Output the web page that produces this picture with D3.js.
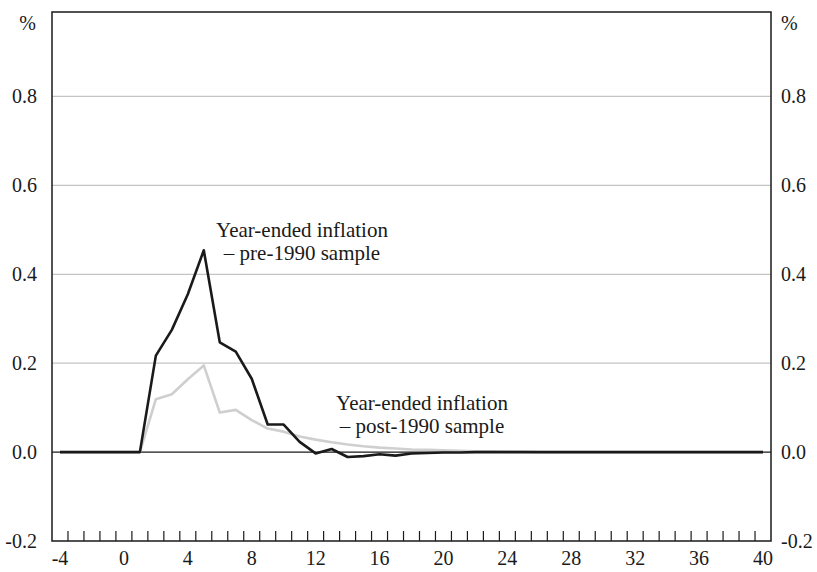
<!DOCTYPE html>
<html>
<head>
<meta charset="utf-8">
<script src="https://cdn.jsdelivr.net/npm/d3@7"></script>
<style>
  body { margin: 0; background: #fff; }
</style>
</head>
<body>
<div id="chart"></div>
<script>
// horizons (categories) and the two response series
var horizons = [-4,-3,-2,-1,0,1,2,3,4,5,6,7,8,9,10,11,12,13,14,15,16,17,18,19,20,
  21,22,23,24,25,26,27,28,29,30,31,32,33,34,35,36,37,38,39,40];
var pre1990 = [0,0,0,0,0,0,0.217,0.275,0.355,0.454,0.247,0.226,0.165,0.062,0.062,
  0.023,-0.003,0.007,-0.011,-0.009,-0.005,-0.008,-0.003,-0.002,-0.001,-0.001,
  0,0,0,0,0,0,0,0,0,0,0,0,0,0,0,0,0,0,0];
var post1990 = [0,0,0,0,0,0,0.119,0.130,0.164,0.195,0.089,0.095,0.072,0.053,0.046,
  0.035,0.028,0.022,0.017,0.013,0.010,0.008,0.006,0.005,0.004,0.003,0.002,0.002,
  0.001,0.001,0,0,0,0,0,0,0,0,0,0,0,0,0,0,0];
var xTickLabels = [-4,0,4,8,12,16,20,24,28,32,36,40];
var yTickLabels = [-0.2,0.0,0.2,0.4,0.6,0.8];
var gridValues = [0.2,0.4,0.6,0.8];

var width = 817, height = 572;
var plot = {left: 52, right: 771, top: 12, bottom: 541};
var serif = '"Liberation Serif", "Times New Roman", "DejaVu Serif", serif';

var svg = d3.select("#chart").append("svg")
    .attr("width", width)
    .attr("height", height)
    .style("font-family", serif);

var x = d3.scaleLinear().domain([-4.5, 40.5]).range([plot.left, plot.right]);
var y = d3.scaleLinear().domain([-0.2, 0.99]).range([plot.bottom, plot.top]);

// gridlines
svg.selectAll(".grid")
    .data(gridValues)
  .enter().append("line")
    .attr("x1", plot.left).attr("x2", plot.right)
    .attr("y1", function(d) { return y(d); })
    .attr("y2", function(d) { return y(d); })
    .attr("stroke", "#c4c4c4")
    .attr("stroke-width", 1.2);

// zero line
svg.append("line")
    .attr("x1", plot.left).attr("x2", plot.right)
    .attr("y1", y(0)).attr("y2", y(0))
    .attr("stroke", "#1a1a1a")
    .attr("stroke-width", 1.3);

// tick marks on the bottom, at category boundaries
var tickPos = horizons.slice(1).map(function(d) { return d - 0.5; });
svg.selectAll(".xtick")
    .data(tickPos)
  .enter().append("line")
    .attr("x1", function(d) { return x(d); })
    .attr("x2", function(d) { return x(d); })
    .attr("y1", plot.bottom).attr("y2", plot.bottom - 10)
    .attr("stroke", "#1a1a1a")
    .attr("stroke-width", 1.2);

var line = d3.line()
    .x(function(d) { return x(d[0]); })
    .y(function(d) { return y(d[1]); });

svg.append("path")
    .datum(horizons.map(function(h, i) { return [h, post1990[i]]; }))
    .attr("d", line)
    .attr("fill", "none")
    .attr("stroke", "#cfcfcf")
    .attr("stroke-width", 2.6)
    .attr("stroke-linejoin", "round");

svg.append("path")
    .datum(horizons.map(function(h, i) { return [h, pre1990[i]]; }))
    .attr("d", line)
    .attr("fill", "none")
    .attr("stroke", "#1a1a1a")
    .attr("stroke-width", 2.6)
    .attr("stroke-linejoin", "round");

// frame
svg.append("rect")
    .attr("x", plot.left).attr("y", plot.top)
    .attr("width", plot.right - plot.left).attr("height", plot.bottom - plot.top)
    .attr("fill", "none")
    .attr("stroke", "#1a1a1a")
    .attr("stroke-width", 1.5);

function label(xp, yp, anchor, size, t) {
  return svg.append("text")
      .attr("x", xp).attr("y", yp)
      .attr("text-anchor", anchor)
      .attr("fill", "#1a1a1a")
      .style("font-family", serif)
      .style("font-size", size + "px")
      .text(t);
}

// y labels both sides
yTickLabels.forEach(function(d) {
  label(37, y(d) + 6.5, "end", 20, d.toFixed(1));
  label(781, y(d) + 6.5, "start", 20, d.toFixed(1));
});
label(36, 30, "end", 20, "%");
label(781, 30, "start", 20, "%");

// x labels
xTickLabels.forEach(function(d) {
  label(x(d), 565, "middle", 20, d);
});

// annotations
var notes = [
  {x: 302, y: 237, lines: ["Year-ended inflation", "\u2013 pre-1990 sample"]},
  {x: 422, y: 410, lines: ["Year-ended inflation", "\u2013 post-1990 sample"]}
];
notes.forEach(function(n) {
  n.lines.forEach(function(t, i) {
    label(n.x, n.y + i * 23, "middle", 21, t);
  });
});
</script>
</body>
</html>
